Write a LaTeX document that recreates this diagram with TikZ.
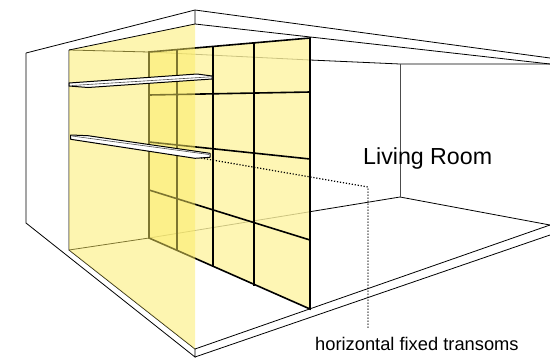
\documentclass[tikz,border=0pt]{standalone}
\usepackage{fontspec}
\setmainfont{Liberation Sans}
\definecolor{glass}{HTML}{FEF4A1}
\definecolor{light}{HTML}{FBEB61}
\tikzset{
  room/.style={draw, line width=0.8pt},
  mullion/.style={draw, line width=1.6pt},
  transom/.style={draw, fill=white, line width=1pt, line join=round},
  leader/.style={draw, line width=1.2pt, dash pattern=on 1.2pt off 1.8pt},
}
\begin{document}
\begin{tikzpicture}[x=1pt, y=-1pt]
  \useasboundingbox (0,0) rectangle (550,357);
  % room
  \draw [room] (26,53) -- (195,10) -- (550,58);
  \draw [room] (195,10) -- (195,24) -- (550,64);
  \draw [room] (26,53) -- (26,223) -- (195,357) -- (195,349) -- (550,225);
  \draw [room] (195,357) -- (550,235);
  \draw [room] (69,50) -- (149,52) -- (310,60) -- (400,64) -- (550,64);
  \draw [room] (69,50) -- (69,250) -- (149,238) -- (400,197) -- (550,225);
  \draw [room] (69,250) -- (195,349);
  \draw [room, black!70] (400,64) -- (400,197);
  % glazing
  \fill [glass, opacity=0.8] (149,52) -- (310,38) -- (310,309) -- (149,238) -- cycle;
  \draw [mullion] (149,52) -- (310,38) -- (310,309) -- (149,238) -- cycle;
  \foreach \x/\a/\b in {177/50/250, 213/46/266, 254/42/286}
    \draw [mullion] (\x,\a) -- (\x,\b);
  \draw [mullion] (149,95) -- (310,92);
  \draw [mullion] (149,142) -- (310,159);
  \draw [mullion] (149,190) -- (310,240);
  % light on the left
  \fill [light, opacity=0.5] (69,50) -- (195,24) -- (195,349) -- (69,250) -- cycle;
  \draw [room] (69,50) -- (195,24);
  % transoms
  \draw [transom] (69,83) -- (197,74) -- (212,76) -- (212,79) -- (88,87.5) -- (69,86) -- cycle;
  \draw [line width=0.6pt, black!70] (72,85.5) -- (211,76.8);
  \draw [transom] (70.7,135) -- (88,135.7) -- (210,153.3) -- (210,157.3) -- (195,158.3) -- (70.7,139.3) -- cycle;
  \draw [line width=0.6pt, black!70] (72,136) -- (209,154.5);
  % labels
  \node [anchor=base west, inner sep=0, font=\fontsize{23.2}{25}\selectfont] (living) at (363,164) {Living Room};
  \node [anchor=base west, inner sep=0, font=\fontsize{18.3}{20}\selectfont] (transoms) at (315,350) {horizontal fixed transoms};
  \coordinate (shelfend) at (201,158);
  \coordinate (bend) at (368,187);
  \coordinate (leaderend) at (368,329);
  \draw [leader] (shelfend) -- (bend) -- (leaderend);
\end{tikzpicture}
\end{document}
